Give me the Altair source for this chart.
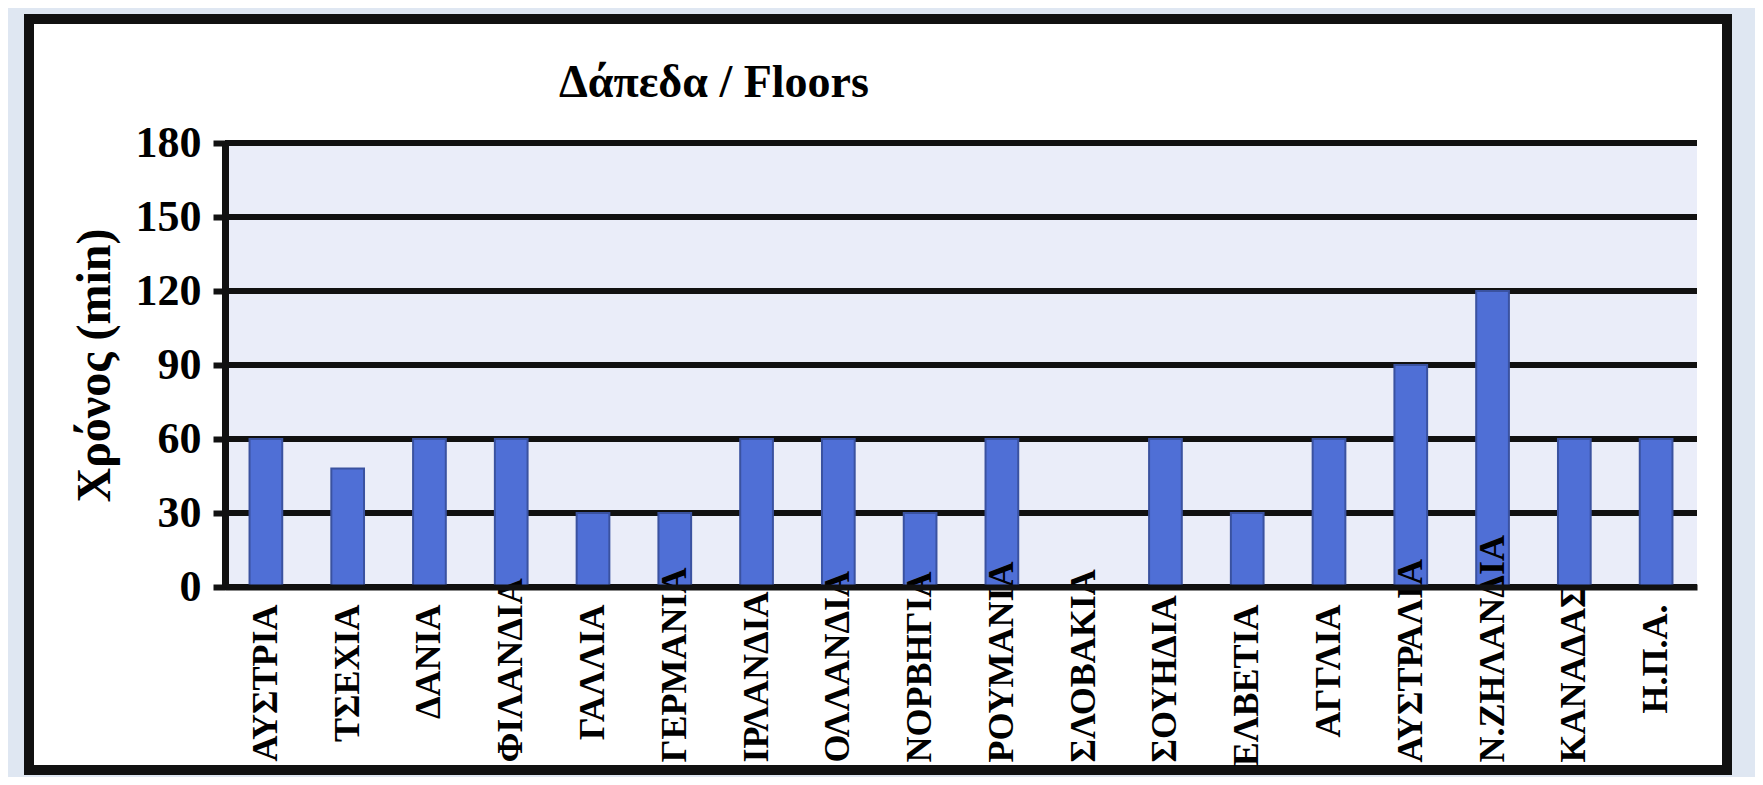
import altair as alt
import pandas as pd

countries = ["ΑΥΣΤΡΙΑ", "ΤΣΕΧΙΑ", "ΔΑΝΙΑ", "ΦΙΛΑΝΔΙΑ", "ΓΑΛΛΙΑ", "ΓΕΡΜΑΝΙΑ",
             "ΙΡΛΑΝΔΙΑ", "ΟΛΛΑΝΔΙΑ", "ΝΟΡΒΗΓΙΑ", "ΡΟΥΜΑΝΙΑ", "ΣΛΟΒΑΚΙΑ", "ΣΟΥΗΔΙΑ",
             "ΕΛΒΕΤΙΑ", "ΑΓΓΛΙΑ", "ΑΥΣΤΡΑΛΙΑ", "Ν.ΖΗΛΑΝΔΙΑ", "ΚΑΝΑΔΑΣ", "Η.Π.Α."]
minutes = [60, 48, 60, 60, 30, 30, 60, 60, 30, 60, 0, 60, 30, 60, 90, 120, 60, 60]
y_ticks = [0, 30, 60, 90, 120, 150, 180]

W, H = 1472, 444
FONT = "Liberation Serif, Times New Roman, serif"
LABEL_SIZE = 36
LABEL_ROOM = 175   # pixels below the axis available for a label
LABEL_GAP = 17

# rough Times-Bold advance widths (em) to decide which labels must be lifted to fit
_em = {"Α": .722, "Β": .667, "Γ": .611, "Δ": .669, "Ε": .667, "Ζ": .667, "Η": .778,
       "Ι": .389, "Κ": .778, "Λ": .704, "Μ": .944, "Ν": .722, "Ο": .778, "Π": .778,
       "Ρ": .611, "Σ": .658, "Τ": .667, "Υ": .722, "Φ": .799, "Χ": .722, ".": .25}


def text_px(s):
    return sum(_em.get(c, .7) for c in s) * 0.96 * LABEL_SIZE


lifted = [c for c in countries if LABEL_GAP + text_px(c) > LABEL_ROOM]
lifted_js = "[" + ",".join("'" + c + "'" for c in lifted) + "]"
test = f"indexof({lifted_js}, datum.label) >= 0"

df = pd.DataFrame({"country": countries, "minutes": minutes})
grid_df = pd.DataFrame({"minutes": y_ticks})
one = alt.Data(values=[{"k": 1}])

yscale = alt.Scale(domain=[0, 180], nice=False)
y_axis = alt.Axis(values=y_ticks, title="Χρόνος (min)", titleFont=FONT,
                  titleFontWeight="bold", titleFontSize=48, titleColor="black",
                  titlePadding=16, labelFont=FONT, labelFontWeight="bold",
                  labelFontSize=44, labelColor="black", tickSize=12, tickWidth=6,
                  tickColor="#111111", domainColor="#111111", domainWidth=7,
                  labelPadding=12, grid=False, zindex=1)

frame = alt.Chart(one).mark_rect(fill="white", stroke="#111111", strokeWidth=10).encode(
    x=alt.value(-196), x2=alt.value(1502), y=alt.value(-124), y2=alt.value(627)
)
plot_bg = alt.Chart(one).mark_rect(fill="#eaedf9").encode(
    x=alt.value(0), x2=alt.value(W), y=alt.value(0), y2=alt.value(H)
)
grid = alt.Chart(grid_df).mark_rule(color="#111111", strokeWidth=6).encode(
    y=alt.Y("minutes:Q", scale=yscale, axis=y_axis),
    x=alt.value(0), x2=alt.value(W)
)

bars = alt.Chart(df).mark_bar(color="#4f6fd6", stroke="#3a52a0", strokeWidth=2).encode(
    x=alt.X("country:N", sort=countries,
            scale=alt.Scale(paddingInner=0.6, paddingOuter=0.3),
            axis=alt.Axis(title=None, labelAngle=-90, labelFont=FONT, labelFontWeight="bold",
                          labelFontSize=LABEL_SIZE, labelColor="black", ticks=False,
                          domainColor="#111111", domainWidth=6,
                          labelAlign={"expr": f"{test} ? 'left' : 'right'"},
                          labelPadding={"expr": f"{test} ? {LABEL_ROOM} : {LABEL_GAP}"},
                          labelLimit=400, zindex=1)),
    y=alt.Y("minutes:Q", scale=yscale, axis=y_axis),
)

chart = alt.layer(frame, plot_bg, grid, bars).properties(
    width=W, height=H,
    autosize=alt.AutoSizeParams(type="none"),
    padding={"left": 217, "top": 135, "right": 58, "bottom": 190},
    background="#dfe7f2",
    title=alt.TitleParams("Δάπεδα / Floors", font=FONT, fontWeight="bold", fontSize=46,
                          color="black", anchor="start", frame="group", dx=334,
                          baseline="alphabetic", offset=-129),
).configure_view(stroke=None)

chart.save("out.html", embed_options={"renderer": "svg", "actions": False})
